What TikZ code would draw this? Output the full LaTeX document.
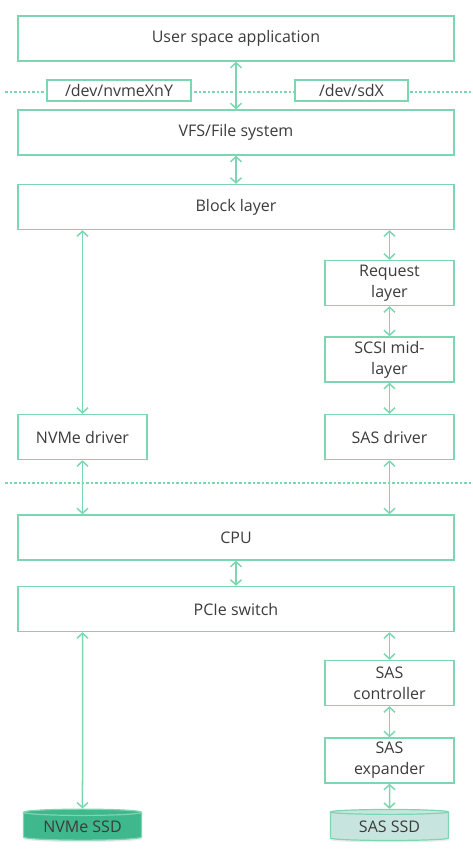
\documentclass[tikz,border=0pt]{standalone}
\usepackage{fontspec}
\setmainfont{Open Sans}
\usetikzlibrary{arrows.meta,shapes.geometric,shadows}
\definecolor{lgreen}{RGB}{125,214,178}
\definecolor{dgreen}{RGB}{62,184,140}
\definecolor{pale}{RGB}{200,228,222}
\definecolor{txt}{RGB}{60,60,60}
\tikzset{
  layer/.style={draw=lgreen, line width=1.5pt, fill=white, text=txt, inner sep=0pt,
    minimum height=45pt, font=\fontsize{16}{21}\selectfont, align=center},
  wide/.style={layer, minimum width=436pt},
  narrow/.style={layer, minimum width=129pt},
  devbox/.style={layer, minimum height=21pt},
  link/.style={draw=lgreen, line width=1.5pt,
    {Straight Barb[length=5pt,width=11pt]}-{Straight Barb[length=5pt,width=11pt]}},
  sep/.style={draw=lgreen, line width=1.3pt, dash pattern=on 2.5pt off 2pt},
  ssd/.style={cylinder, shape border rotate=90, aspect=0.08, draw=lgreen, line width=1.2pt,
    text=txt, font=\fontsize{16}{21}\selectfont, minimum width=118pt, minimum height=31pt,
    inner sep=0pt, drop shadow={opacity=0.15, shadow xshift=0pt, shadow yshift=-2pt}}
}
\begin{document}
\begin{tikzpicture}[x=1pt,y=-1pt]
\useasboundingbox (0,0) rectangle (473,860);
% separators
\draw[sep] (5,92) -- (473,92);
\draw[sep] (5,483) -- (473,483);
% host side
\node[wide] (user) at (236,38.5) {User space application};
\node[devbox, minimum width=144pt] (nvmedev) at (119,90.5) {/dev/nvmeXnY};
\node[devbox, minimum width=113pt] (sddev) at (351.5,90.5) {/dev/sdX};
\node[wide] (vfs) at (236,132.5) {VFS/File system};
\node[wide] (block) at (236,207) {Block layer};
\node[narrow] (req) at (389.5,283) {Request\\layer};
\node[narrow] (scsi) at (389.5,359.5) {SCSI mid-\\layer};
\node[narrow] (nvmedrv) at (82.5,437) {NVMe driver};
\node[narrow] (sasdrv) at (389.5,437) {SAS driver};
% hardware side
\node[wide] (cpu) at (236,537.5) {CPU};
\node[wide] (pcie) at (236,609) {PCIe switch};
\node[narrow] (sasctl) at (389.5,683) {SAS\\controller};
\node[narrow] (sasexp) at (389.5,760.5) {SAS\\expander};
\node[ssd, fill=dgreen] (nvmessd) at (82.5,826.5) {NVMe SSD};
\node[ssd, fill=pale] (sasssd) at (389.5,826.5) {SAS SSD};
% links
\draw[link] (user) -- (vfs);
\draw[link] (vfs) -- (block);
\draw[link] (block.south -| nvmedrv) -- (nvmedrv);
\draw[link] (block.south -| req) -- (req);
\draw[link] (req) -- (scsi);
\draw[link] (scsi) -- (sasdrv);
\draw[link] (nvmedrv) -- (cpu.north -| nvmedrv);
\draw[link] (sasdrv) -- (cpu.north -| sasdrv);
\draw[link] (cpu) -- (pcie);
\draw[link] (pcie.south -| nvmessd) -- (nvmessd);
\draw[link] (pcie.south -| sasctl) -- (sasctl);
\draw[link] (sasctl) -- (sasexp);
\draw[link] (sasexp) -- (sasssd);
\end{tikzpicture}
\end{document}
